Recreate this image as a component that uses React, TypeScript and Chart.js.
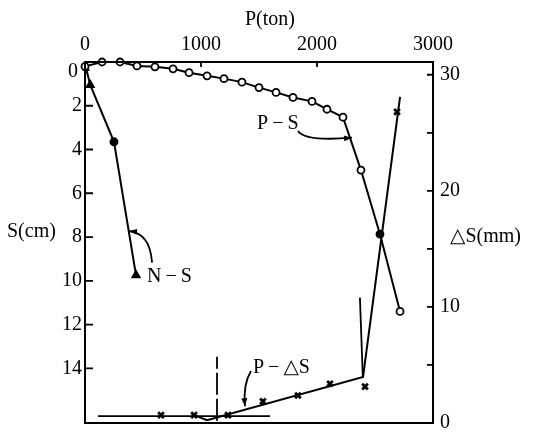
import React, { useEffect, useRef } from 'react';
import { Chart, registerables } from 'chart.js';

Chart.register(...registerables);

// ---- data ----
// P–S curve: load P (ton) vs settlement S (cm)
const psLoad = [0, 147, 302, 448, 603, 759, 897, 1052, 1198, 1353, 1500, 1647, 1793, 1957, 2086, 2224, 2379, 2543, 2716];
const psSettle = [0.2, 0, 0, 0.18, 0.22, 0.31, 0.49, 0.63, 0.76, 0.92, 1.17, 1.39, 1.62, 1.8, 2.16, 2.52, 4.94, 7.87, 11.4];

// N–S curve
const nsN = [10, 45, 250, 440];
const nsSettle = [0.3, 1.05, 3.65, 9.75];

// P–ΔS marks (x) : load vs ΔS (mm)
const dsMarkLoad = [655, 940, 1233, 1534, 1836, 2112, 2414, 2690];
const dsMarkValue = [0.68, 0.68, 0.68, 1.86, 2.37, 3.38, 3.13, 26.8];

// P–ΔS fitted line
const dsLineLoad = [940, 1052, 2397, 2716];
const dsLineValue = [0.68, 0.25, 3.97, 28.1];

// horizontal reference line of ΔS
const dsRefLoad = [112, 1595];
const dsRefValue = [0.59, 0.59];

// dashed vertical marker (ΔS)
const dsDashLoad = [1138, 1138];
const dsDashValue = [0.2, 5.7];

// vertical marker near the break (ΔS)
const dsBreakLoad = [2370, 2395];
const dsBreakValue = [10.8, 3.97];

// ticks
const topTicks = [0, 1000, 2000, 3000];
const leftTicks = [0, 2, 4, 6, 8, 10, 12, 14];
const rightTicks = [0, 5, 10, 15, 20, 25, 30];
const rightLabelled = [0, 10, 20, 30];

const FONT = '"Liberation Serif", "DejaVu Serif", serif';

function pts(xs: number[], ys: number[]) {
  return xs.map((x, i) => ({ x, y: ys[i] }));
}

const framePlugin = {
  id: 'frameAndNotes',
  afterDraw(chart: any) {
    const ctx = chart.ctx as CanvasRenderingContext2D;
    const ca = chart.chartArea;
    const xs = chart.scales.x;
    const yl = chart.scales.yS;
    const yr = chart.scales.yD;
    ctx.save();
    ctx.strokeStyle = '#000';
    ctx.fillStyle = '#000';
    ctx.lineWidth = 2;
    ctx.strokeRect(ca.left, ca.top, ca.right - ca.left, ca.bottom - ca.top);

    // inward tick marks
    ctx.lineWidth = 1.8;
    ctx.beginPath();
    leftTicks.forEach((v) => {
      if (v === 0) return;
      const y = yl.getPixelForValue(v);
      ctx.moveTo(ca.left, y);
      ctx.lineTo(ca.left + 8, y);
    });
    rightTicks.forEach((v) => {
      if (v === 0) return;
      const y = yr.getPixelForValue(v);
      ctx.moveTo(ca.right, y);
      ctx.lineTo(ca.right - 6, y);
    });
    topTicks.forEach((v) => {
      if (v === 0 || v === 3000) return;
      const x = xs.getPixelForValue(v);
      ctx.moveTo(x, ca.top);
      ctx.lineTo(x, ca.top + 5);
    });
    ctx.stroke();

    // texts
    ctx.font = '20px ' + FONT;
    ctx.textBaseline = 'middle';
    ctx.textAlign = 'right';
    ctx.fillText('0', ca.left - 7, yl.getPixelForValue(0) + 10);
    ctx.textAlign = 'left';
    ctx.fillText('S(cm)', 7, 232);
    ctx.fillText('\u25B3S(mm)', 450, 237);
    ctx.textAlign = 'center';
    ctx.fillText('P(ton)', 270, 20);

    // annotations with arrows
    const notes = [
      { text: 'P\u2009\u2212\u2009S', tx: 1483, ty: 2.83, axis: yl, a: [1836, 3.15], c: [1897, 3.64], e: [2302, 3.46] },
      { text: 'N\u2009\u2212\u2009S', tx: 534, ty: 9.8, axis: yl, a: [578, 9.17], c: [560, 7.82], e: [379, 7.73] },
      { text: 'P\u2009\u2212\u2009\u25B3S', tx: 1448, ty: 4.73, axis: yr, a: [1431, 4.48], c: [1362, 3.38], e: [1379, 1.44] },
    ];
    notes.forEach((n) => {
      ctx.textAlign = 'left';
      ctx.fillText(n.text, xs.getPixelForValue(n.tx), n.axis.getPixelForValue(n.ty));
      const ax = xs.getPixelForValue(n.a[0]), ay = n.axis.getPixelForValue(n.a[1]);
      const cx = xs.getPixelForValue(n.c[0]), cy = n.axis.getPixelForValue(n.c[1]);
      const ex = xs.getPixelForValue(n.e[0]), ey = n.axis.getPixelForValue(n.e[1]);
      ctx.lineWidth = 1.8;
      ctx.beginPath();
      ctx.moveTo(ax, ay);
      ctx.quadraticCurveTo(cx, cy, ex, ey);
      ctx.stroke();
      const ang = Math.atan2(ey - cy, ex - cx);
      const len = 8, w = 3;
      ctx.beginPath();
      ctx.moveTo(ex, ey);
      ctx.lineTo(ex - len * Math.cos(ang) - w * Math.sin(ang), ey - len * Math.sin(ang) + w * Math.cos(ang));
      ctx.lineTo(ex - len * Math.cos(ang) + w * Math.sin(ang), ey - len * Math.sin(ang) - w * Math.cos(ang));
      ctx.closePath();
      ctx.fill();
    });
    ctx.restore();
  },
};

export default function App() {
  const ref = useRef<HTMLCanvasElement | null>(null);
  useEffect(() => {
    if (!ref.current) return;
    const line = { showLine: true, borderColor: '#000', borderWidth: 2, clip: 10 as any };
    const psBg = psLoad.map((_, i) => (i === 17 ? '#000' : '#fff'));
    const chart = new Chart(ref.current, {
      type: 'scatter',
      data: {
        datasets: [
          {
            ...line,
            label: 'P-S',
            data: pts(psLoad, psSettle),
            yAxisID: 'yS',
            pointStyle: 'circle',
            pointRadius: 3.5,
            pointBorderWidth: 1.8,
            pointBorderColor: '#000',
            pointBackgroundColor: psBg,
          },
          {
            ...line,
            label: 'N-S',
            data: pts(nsN, nsSettle),
            yAxisID: 'yS',
            pointStyle: ['triangle', 'triangle', 'circle', 'triangle'],
            pointRadius: [2.5, 4, 3.5, 4],
            pointBorderColor: '#000',
            pointBackgroundColor: '#000',
          },
          {
            ...line,
            label: 'P-dS line',
            data: pts(dsLineLoad, dsLineValue),
            yAxisID: 'yD',
            pointRadius: 0,
          },
          {
            showLine: false,
            label: 'P-dS marks',
            data: pts(dsMarkLoad, dsMarkValue),
            yAxisID: 'yD',
            pointStyle: 'crossRot',
            pointRadius: 4,
            pointBorderWidth: 2.8,
            pointBorderColor: '#000',
          },
          {
            ...line,
            label: 'ref',
            data: pts(dsRefLoad, dsRefValue),
            yAxisID: 'yD',
            pointRadius: 0,
            borderWidth: 1.8,
          },
          {
            ...line,
            label: 'dash',
            data: pts(dsDashLoad, dsDashValue),
            yAxisID: 'yD',
            pointRadius: 0,
            borderWidth: 1.8,
            borderDash: [22, 4],
          },
          {
            ...line,
            label: 'break',
            data: pts(dsBreakLoad, dsBreakValue),
            yAxisID: 'yD',
            pointRadius: 0,
            borderWidth: 1.8,
          },
        ],
      },
      options: {
        responsive: false,
        animation: false,
        devicePixelRatio: 1,
        layout: { padding: { left: 0, right: 0, top: 0, bottom: 12 } },
        plugins: { legend: { display: false }, tooltip: { enabled: false } },
        elements: { line: { tension: 0 } },
        scales: {
          x: {
            type: 'linear',
            position: 'top',
            min: 0,
            max: 3000,
            border: { display: false },
            grid: { display: false, drawTicks: false },
            afterBuildTicks: (s: any) => { s.ticks = topTicks.map((v) => ({ value: v })); },
            afterFit: (s: any) => { s.height = 62; },
            ticks: { color: '#000', font: { family: FONT, size: 20 }, padding: 5, maxRotation: 0, autoSkip: false, callback: (v: any) => String(v) },
          },
          yS: {
            type: 'linear',
            position: 'left',
            reverse: true,
            min: 0,
            max: 16.5,
            border: { display: false },
            grid: { display: false, drawTicks: false },
            afterBuildTicks: (s: any) => { s.ticks = leftTicks.map((v) => ({ value: v })); },
            afterFit: (s: any) => { s.width = 85; },
            ticks: { color: '#000', font: { family: FONT, size: 20 }, padding: 3, autoSkip: false, callback: (v: any) => (v === 0 ? '' : String(v)) },
          },
          yD: {
            type: 'linear',
            position: 'right',
            min: 0,
            max: 31.1,
            border: { display: false },
            grid: { display: false, drawTicks: false },
            afterBuildTicks: (s: any) => { s.ticks = rightTicks.map((v) => ({ value: v })); },
            afterFit: (s: any) => { s.width = 106; },
            ticks: { color: '#000', font: { family: FONT, size: 20 }, padding: 7, autoSkip: false, callback: (v: any) => (rightLabelled.includes(v) ? String(v) : '') },
          },
        },
      },
      plugins: [framePlugin],
    } as any);
    return () => chart.destroy();
  }, []);
  return (
    <div style={{ position: 'fixed', left: 0, top: 0, width: 539, height: 442, background: '#fff' }}>
      <canvas ref={ref} width={539} height={442} />
    </div>
  );
}
